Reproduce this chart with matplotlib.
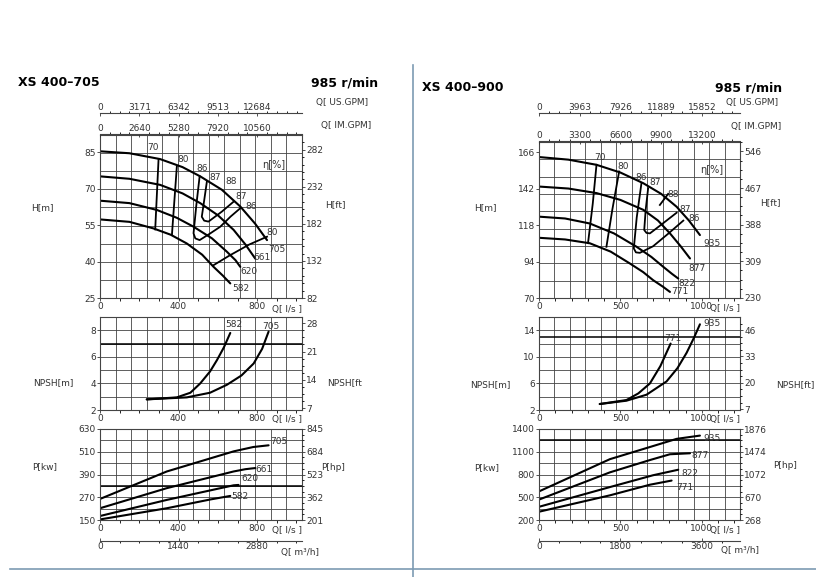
import numpy as np
import matplotlib.pyplot as plt

plt.rcParams['font.family'] = ['DejaVu Sans']

# ---------------- XS 400-705 ----------------
L_h705_q = [0, 150, 306, 420, 510, 620, 714, 790, 850]
L_h705_h = [85.3, 84.5, 82.1, 78.8, 75, 69.5, 62.6, 55.5, 48.8]
L_h661_q = [0, 150, 306, 420, 510, 600, 680, 740, 790]
L_h661_h = [75, 74, 71.5, 68, 64, 59, 53, 47, 41.2]
L_h620_q = [0, 150, 289, 390, 476, 570, 646, 690, 714]
L_h620_h = [65, 64, 61.2, 58, 54.3, 49.5, 44, 40.5, 37.8]
L_h582_q = [0, 150, 272, 360, 442, 520, 578, 625, 663]
L_h582_h = [57.3, 56.3, 53.6, 51, 47.4, 42.8, 37.8, 34.2, 31]
L_eff_lines = [
    ([298, 281], [82.1, 53.2]),
    ([391, 366], [79, 50.9]),
    ([507, 490, 476, 485, 507, 560, 612, 665, 714], [75, 63, 51.6, 49.5, 48.8, 51.5, 54.3, 58.5, 61.9]),
    ([544, 530, 518, 530, 552, 620, 680], [72.9, 65, 58.4, 56.8, 56.4, 60.5, 64.6]),
    ([578, 660, 760, 850], [38.5, 42.5, 47, 50.2]),
]
L_eff_labels = [("70", 269, 87), ("80", 422, 81.8), ("86", 519, 78.3), ("87", 587, 74.7),
                ("88", 667, 72.9), ("87", 717, 66.7), ("86", 768, 62.8), ("80", 876, 51.8)]
L_h_labels = [("705", 898, 45), ("661", 825, 41.7), ("620", 757, 36), ("582", 717, 28.9)]
L_n582_q = [238, 391, 460, 510, 560, 595, 630, 663]
L_n582_v = [2.8, 2.95, 3.3, 4.0, 4.9, 5.75, 6.7, 7.8]
L_n705_q = [238, 442, 560, 646, 720, 782, 825, 858]
L_n705_v = [2.8, 2.95, 3.3, 3.9, 4.6, 5.5, 6.6, 7.9]
L_n_labels = [("582", 680, 8.4), ("705", 870, 8.25)]
L_p705_q = [0, 340, 680, 780, 858]
L_p705_p = [261, 406, 512, 535, 544]
L_p661_q = [0, 340, 680, 740, 790]
L_p661_p = [212, 318, 406, 418, 424]
L_p620_q = [0, 340, 600, 680, 705]
L_p620_p = [171, 256, 315, 333, 335]
L_p582_q = [0, 340, 560, 663]
L_p582_p = [153, 212, 258, 277]
L_p_labels = [("705", 910, 565), ("661", 833, 418), ("620", 765, 370), ("582", 714, 273)]

# ---------------- XS 400-900 ----------------
R_h935_q = [0, 180, 353, 500, 640, 750, 845, 920, 988]
R_h935_h = [162.7, 161, 157.6, 152.5, 145.5, 138.5, 130, 121, 111.4]
R_h877_q = [0, 180, 353, 500, 640, 730, 804, 870, 927]
R_h877_h = [143.3, 142, 139, 134.5, 128, 121, 112.5, 104, 96]
R_h822_q = [0, 160, 312, 460, 599, 690, 763, 815, 855]
R_h822_h = [123.5, 122.3, 119, 112.5, 103.7, 97, 90.5, 86, 82.8]
R_h771_q = [0, 160, 312, 440, 558, 640, 701, 760, 804]
R_h771_h = [109.6, 108.5, 106, 100.5, 92.7, 87, 81.7, 77.5, 74]
R_eff_lines = [
    ([353, 330, 301], [157.6, 132, 106.1]),
    ([492, 450, 414], [153.2, 128, 103.7]),
    ([629, 600, 582, 595, 619, 700, 790, 886], [145.5, 123, 102.6, 100, 99.7, 104, 112, 120.9]),
    ([670, 655, 646, 660, 681, 760, 845], [142.2, 128, 114.7, 112.8, 112.5, 119, 126.1]),
    ([742, 793], [131.2, 138.5]),
]
R_eff_labels = [("70", 377, 162.7), ("80", 517, 156.5), ("86", 625, 149.5), ("87", 712, 146),
                ("88", 824, 137.8), ("87", 896, 128), ("86", 953, 122.4)]
R_h_labels = [("935", 1060, 105.9), ("877", 968, 89.4), ("822", 906, 79.5), ("771", 865, 74)]
R_n771_q = [373, 537, 610, 681, 745, 808]
R_n771_v = [2.9, 3.5, 4.5, 6.0, 8.6, 12.0]
R_n935_q = [373, 537, 660, 783, 850, 906, 950, 988]
R_n935_v = [2.9, 3.4, 4.3, 6.3, 8.3, 10.6, 12.8, 14.9]
R_n_labels = [("771", 824, 12.7), ("935", 1060, 15)]
R_p935_q = [0, 435, 700, 845, 988]
R_p935_p = [577, 1002, 1175, 1270, 1313]
R_p877_q = [0, 435, 680, 804, 927]
R_p877_p = [469, 828, 990, 1067, 1080]
R_p822_q = [0, 435, 700, 855]
R_p822_p = [374, 634, 790, 863]
R_p771_q = [0, 435, 680, 814]
R_p771_p = [309, 525, 665, 720]
R_p_labels = [("935", 1060, 1270), ("877", 988, 1045), ("822", 927, 807), ("771", 896, 634)]

W, H = 816, 577
fig = plt.figure(figsize=(W / 100, H / 100), dpi=100)
fig.patch.set_facecolor('white')

FS = 6.5
TC = '#333333'
GC = '#444444'


def fx(px):
    return px / W


def fy(py):
    return 1 - py / H


def grid_axes(rect, xmax, ylim, ny, yticks, rticks, conv, xticks, thick=None):
    ax = fig.add_axes(rect)
    ax.set_xlim(0, xmax)
    ax.set_ylim(ylim[0], ylim[1])
    for x in np.linspace(0, xmax, 14)[1:-1]:
        ax.axvline(x, color=GC, lw=0.6)
    for y in np.linspace(ylim[0], ylim[1], ny + 1)[1:-1]:
        ax.axhline(y, color=GC, lw=0.6)
    if thick is not None:
        ax.axhline(thick, color='black', lw=1.1)
    ax.set_yticks(yticks)
    ax.set_xticks(xticks)
    ax.tick_params(labelsize=FS, colors=TC, length=2, width=0.6, pad=1)
    for s in ax.spines.values():
        s.set_color(GC)
        s.set_linewidth(0.8)
    tw = ax.twinx()
    tw.set_ylim(ylim[0] * conv, ylim[1] * conv)
    tw.set_yticks(rticks)
    tw.minorticks_on()
    tw.tick_params(labelsize=FS, colors=TC, length=2, width=0.6, pad=1)
    tw.tick_params(which='minor', length=1.5)
    for s in tw.spines.values():
        s.set_visible(False)
    return ax


def curve(ax, q, v):
    ax.plot(q, v, color='black', lw=1.5, solid_capstyle='round')


def labels(ax, lst):
    for t, q, v in lst:
        ax.text(q, v, t, fontsize=FS, color=TC, ha='center', va='center')


def unit_axis(y_px, x0, x1, lim, ticks, top):
    a = fig.add_axes([fx(x0), fy(y_px), fx(x1 - x0), 0.0001])
    a.set_xlim(0, lim)
    a.set_yticks([])
    a.set_xticks(ticks)
    a.minorticks_on()
    a.yaxis.set_minor_locator(plt.NullLocator())
    side = 'top' if top else 'bottom'
    for k, s in a.spines.items():
        s.set_visible(k == side)
    a.spines[side].set_color(GC)
    a.xaxis.set_ticks_position(side)
    a.tick_params(labelsize=FS, colors=TC, length=2, width=0.6, pad=1, direction='in')
    a.tick_params(which='minor', length=1.5)
    a.set_facecolor('none')
    return a


def panel(x0, x1, xmax, hlim, hticks, hft, nlim, nticks, nft, plim, pticks, php,
          qticks, us_ticks, im_ticks, m3_ticks,
          hcurves, effl, effl_lab, hlab, ncurves, nlab, pcurves, plab, hpos):
    w = fx(x1 - x0)
    ax_h = grid_axes([fx(x0), fy(298), w, fy(hpos) - fy(298)], xmax, hlim[:2], hlim[2],
                     hticks, hft, 3.281, qticks)
    for q, v in hcurves:
        curve(ax_h, q, v)
    for q, v in effl:
        ax_h.plot(q, v, color='black', lw=1.3)
    labels(ax_h, effl_lab)
    labels(ax_h, hlab)
    ax_h.text(0.86, 0.8, 'η[%]', transform=ax_h.transAxes, fontsize=7, color=TC, ha='center')
    ax_h.text(1.0, -0.07, 'Q[ l/s ]', transform=ax_h.transAxes, fontsize=FS, color=TC, ha='right', va='center')

    ax_n = grid_axes([fx(x0), fy(410), w, fy(317) - fy(410)], xmax, nlim[:2], nlim[2],
                     nticks, nft, 3.281, qticks, thick=nlim[3])
    for q, v in ncurves:
        curve(ax_n, q, v)
    labels(ax_n, nlab)
    ax_n.text(1.0, -0.1, 'Q[ l/s ]', transform=ax_n.transAxes, fontsize=FS, color=TC, ha='right', va='center')

    ax_p = grid_axes([fx(x0), fy(520), w, fy(429) - fy(520)], xmax, plim[:2], plim[2],
                     pticks, php, 1.341, qticks, thick=plim[3])
    for q, v in pcurves:
        curve(ax_p, q, v)
    labels(ax_p, plab)
    ax_p.text(1.0, -0.12, 'Q[ l/s ]', transform=ax_p.transAxes, fontsize=FS, color=TC, ha='right', va='center')

    unit_axis(113, x0, x1, xmax * 15.85, us_ticks, True)
    unit_axis(hpos - 1, x0, x1, xmax * 13.2, im_ticks, True)
    unit_axis(541, x0, x1, xmax * 3.6, m3_ticks, False)


panel(100, 302, 1028, (25, 92, 9), [25, 40, 55, 70, 85], [82, 132, 182, 232, 282],
      (2, 9, 7, 7), [2, 4, 6, 8], [7, 14, 21, 28],
      (150, 630, 8, 330), [150, 270, 390, 510, 630], [201, 362, 523, 684, 845],
      [0, 400, 800], [0, 3171, 6342, 9513, 12684], [0, 2640, 5280, 7920, 10560],
      [0, 1440, 2880],
      [(L_h705_q, L_h705_h), (L_h661_q, L_h661_h), (L_h620_q, L_h620_h), (L_h582_q, L_h582_h)],
      L_eff_lines, L_eff_labels, L_h_labels,
      [(L_n582_q, L_n582_v), (L_n705_q, L_n705_v)], L_n_labels,
      [(L_p705_q, L_p705_p), (L_p661_q, L_p661_p), (L_p620_q, L_p620_p), (L_p582_q, L_p582_p)],
      L_p_labels, 135)

panel(539, 740, 1234, (70, 172.6, 9), [70, 94, 118, 142, 166], [230, 309, 388, 467, 546],
      (2, 16, 7, 13), [2, 6, 10, 14], [7, 20, 33, 46],
      (200, 1400, 8, 1250), [200, 500, 800, 1100, 1400], [268, 670, 1072, 1474, 1876],
      [0, 500, 1000], [0, 3963, 7926, 11889, 15852], [0, 3300, 6600, 9900, 13200],
      [0, 1800, 3600],
      [(R_h935_q, R_h935_h), (R_h877_q, R_h877_h), (R_h822_q, R_h822_h), (R_h771_q, R_h771_h)],
      R_eff_lines, R_eff_labels, R_h_labels,
      [(R_n771_q, R_n771_v), (R_n935_q, R_n935_v)], R_n_labels,
      [(R_p935_q, R_p935_p), (R_p877_q, R_p877_p), (R_p822_q, R_p822_p), (R_p771_q, R_p771_p)],
      R_p_labels, 142)

# titles and axis names
fig.text(fx(18), fy(83), 'XS 400–705', fontsize=9, fontweight='bold', va='center')
fig.text(fx(378), fy(83), '985 r/min', fontsize=9, fontweight='bold', va='center', ha='right')
fig.text(fx(422), fy(87), 'XS 400–900', fontsize=9, fontweight='bold', va='center')
fig.text(fx(782), fy(88), '985 r/min', fontsize=9, fontweight='bold', va='center', ha='right')

side = [("H[m]", 42, 208), ("H[ft]", 335, 205), ("NPSH[m]", 53, 383), ("NPSH[ft", 345, 383),
        ("P[kw]", 45, 467), ("P[hp]", 333, 467),
        ("H[m]", 485, 208), ("H[ft]", 770, 203), ("NPSH[m]", 490, 385), ("NPSH[ft]", 795, 385),
        ("P[kw]", 487, 468), ("P[hp]", 785, 465),
        ("Q[ US.GPM]", 342, 103), ("Q[ IM.GPM]", 346, 126), ("Q[ m³/h]", 300, 552),
        ("Q[ US.GPM]", 752, 103), ("Q[ IM.GPM]", 756, 127), ("Q[ m³/h]", 740, 550)]
for t, x, y in side:
    fig.text(fx(x), fy(y), t, fontsize=FS, color=TC, ha='center', va='center')

fig.add_artist(plt.Line2D([fx(413), fx(413)], [fy(65), fy(577)], color='#7d9bb3', lw=1.2))
fig.add_artist(plt.Line2D([fx(10), fx(816)], [fy(569), fy(569)], color='#7d9bb3', lw=1.2))

fig.savefig('out.png', dpi=100)
